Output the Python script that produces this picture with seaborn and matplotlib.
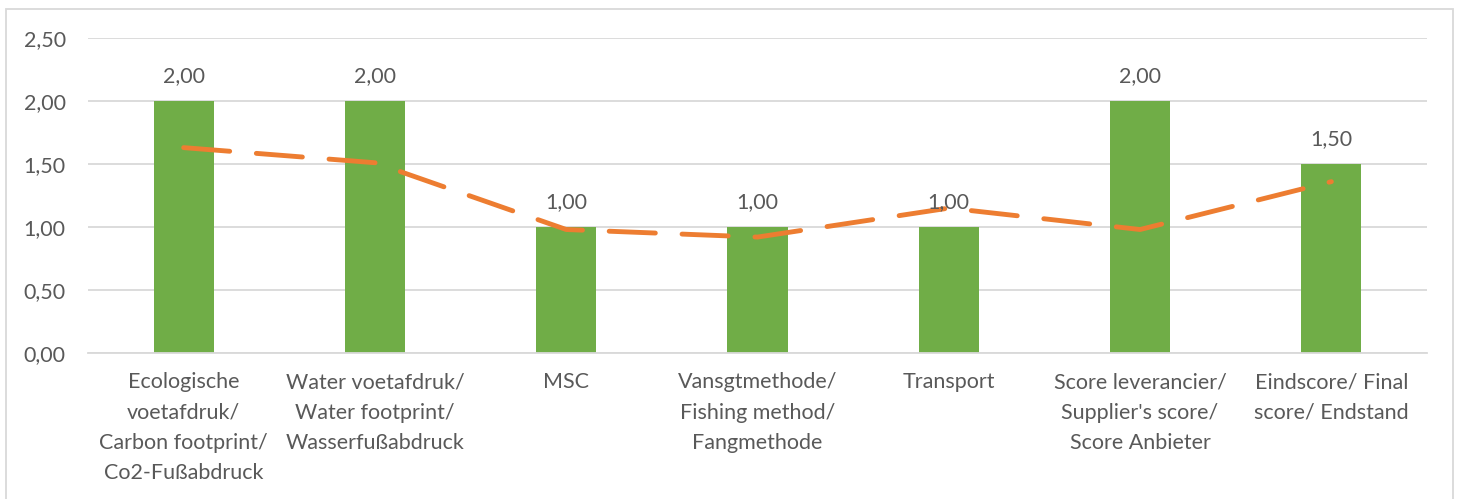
import matplotlib
matplotlib.use("Agg")
import matplotlib.pyplot as plt
import matplotlib.patches as patches
from matplotlib.ticker import FuncFormatter
import seaborn as sns
import pandas as pd

# Data
categories = [
    "Ecologische\nvoetafdruk/\nCarbon footprint/\nCo2-Fußabdruck",
    "Water voetafdruk/\nWater footprint/\nWasserfußabdruck",
    "MSC",
    "Vansgtmethode/\nFishing method/\nFangmethode",
    "Transport",
    "Score leverancier/\nSupplier's score/\nScore Anbieter",
    "Eindscore/ Final\nscore/ Endstand",
]
scores = [2.00, 2.00, 1.00, 1.00, 1.00, 2.00, 1.50]
trend = [1.63, 1.51, 0.98, 0.92, 1.15, 0.98, 1.36]

GREEN = "#70AD47"
ORANGE = "#ED7D31"
GRID = "#D9D9D9"
TEXT = "#595959"
FS = 15.5

sns.set_theme(style="white")
plt.rcParams["font.family"] = ["Lato", "DejaVu Sans"]

df = pd.DataFrame({"cat": categories, "score": scores})

fig = plt.figure(figsize=(14.58, 4.99), dpi=100)
ax = fig.add_axes([88 / 1458, 1 - 353 / 499, (1427 - 88) / 1458, (353 - 38) / 499])

sns.barplot(data=df, x="cat", y="score", color=GREEN, width=0.314,
            saturation=1, ax=ax, zorder=2, linewidth=0)
ax.plot(range(len(trend)), trend, color=ORANGE, lw=3.5, ls=(0, (9.5, 5.5)),
        dash_capstyle="round", zorder=3)

for i, v in enumerate(scores):
    ax.annotate(f"{v:.2f}".replace(".", ","), (i, v), xytext=(0, 11),
                textcoords="offset points", ha="center", va="bottom",
                fontsize=FS, color=TEXT, zorder=4)

ax.set_ylim(0, 2.5)
ax.set_xlim(-0.5, len(categories) - 0.5)
ax.set_yticks([0, 0.5, 1.0, 1.5, 2.0, 2.5])
ax.yaxis.set_major_formatter(FuncFormatter(lambda v, p: f"{v:.2f}".replace(".", ",")))
ax.grid(axis="y", color=GRID, lw=1.3, zorder=0)
ax.set_axisbelow(True)
for s in ["left", "right", "top"]:
    ax.spines[s].set_visible(False)
ax.spines["bottom"].set_color(GRID)
ax.spines["bottom"].set_linewidth(1.3)
ax.tick_params(axis="both", length=0, labelsize=FS, labelcolor=TEXT)
ax.tick_params(axis="y", pad=16)
ax.tick_params(axis="x", pad=14)
for lbl in ax.get_xticklabels():
    lbl.set_linespacing(1.63)
ax.set_xlabel("")
ax.set_ylabel("")

# chart border
fig.patches.append(patches.Rectangle((6 / 1458, -0.01), (1453 - 6) / 1458, 1 - 9 / 499 + 0.01,
                                     transform=fig.transFigure, fill=False,
                                     edgecolor=GRID, lw=1.3))

fig.savefig("out.png", dpi=100)
